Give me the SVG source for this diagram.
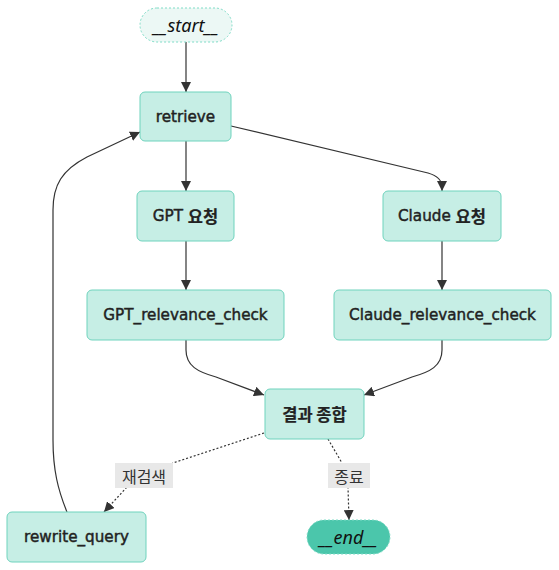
<svg xmlns="http://www.w3.org/2000/svg" width="559" height="570" viewBox="0 0 559 570">
<defs>
<marker id="arr" viewBox="0 0 10 10" refX="10" refY="5" markerWidth="10" markerHeight="10" markerUnits="userSpaceOnUse" orient="auto">
<path d="M0,0 L10,5 L0,10 z" fill="#333"/>
</marker>
<style>
.node rect{fill:#c6eee5;stroke:#6fd3bd;stroke-width:1}
.node text{font-family:"DejaVu Sans","Noto Sans CJK KR",sans-serif;font-size:15.2px;fill:#222;stroke:#222;stroke-width:0.45;text-anchor:middle;dominant-baseline:central}
.node .ko{font-family:"Noto Sans CJK KR",sans-serif;font-weight:700;font-size:16.5px;stroke-width:0.2}
.term text{font-family:"Noto Sans","Noto Sans CJK KR",sans-serif;font-style:italic;font-size:18px;fill:#111;text-anchor:middle;dominant-baseline:central}
.edge{fill:none;stroke:#333;stroke-width:1.2}
.dot{stroke-dasharray:2 2}
.lbl rect{fill:#e8e8e8}
.lbl text{font-family:"Noto Sans CJK KR",sans-serif;font-size:16px;fill:#333;text-anchor:middle;dominant-baseline:central}
</style>
</defs>
<rect width="559" height="570" fill="#fff"/>
<g id="edges">
<path class="edge" d="M186,42 L186,92" marker-end="url(#arr)"/>
<path class="edge" d="M186,141 L186,191" marker-end="url(#arr)"/>
<path class="edge" d="M231,126 L428,173 Q442,177 442,187 L442,191" marker-end="url(#arr)"/>
<path class="edge" d="M186,241 L186,290" marker-end="url(#arr)"/>
<path class="edge" d="M442,241 L442,290" marker-end="url(#arr)"/>
<path class="edge" d="M186,340 L186,350 C186,366 198,372 216,377 L264,395" marker-end="url(#arr)"/>
<path class="edge" d="M442,340 L442,350 C442,366 430,372 412,377 L364,395" marker-end="url(#arr)"/>
<path class="edge dot" d="M264,433 L173,463 L127,487 L104,512" marker-end="url(#arr)"/>
<path class="edge dot" d="M328,439 L342,463 L348,487 L349,520" marker-end="url(#arr)"/>
<path class="edge" d="M67,512 C58,490 53,470 53,440 L53,210 C53,185 62,170 87,157 L140,132" marker-end="url(#arr)"/>
<g class="lbl"><rect x="115" y="463" width="58" height="25"/><text x="144" y="475.5">재검색</text></g>
<g class="lbl"><rect x="328" y="463" width="42" height="25"/><text x="349" y="475.5">종료</text></g>
</g>
<g id="start" class="term"><rect x="140" y="8" width="92" height="34" rx="17" fill="#ecf8f5" stroke="#7fdcc7" stroke-dasharray="2 2"/><text x="186" y="25">__start__</text></g>
<g id="retrieve" class="node"><rect x="140" y="92" width="91" height="49" rx="5"/><text x="185.5" y="116.5">retrieve</text></g>
<g id="gpt" class="node"><rect x="137" y="191" width="97" height="50" rx="5"/><text x="185.5" y="216">GPT <tspan class="ko">요청</tspan></text></g>
<g id="claude" class="node"><rect x="383" y="191" width="118" height="50" rx="5"/><text x="442" y="216">Claude <tspan class="ko">요청</tspan></text></g>
<g id="gpt_rel" class="node"><rect x="87" y="290" width="197" height="50" rx="5"/><text x="185.5" y="315">GPT_relevance_check</text></g>
<g id="claude_rel" class="node"><rect x="334" y="290" width="217" height="50" rx="5"/><text x="442.5" y="315">Claude_relevance_check</text></g>
<g id="result" class="node"><rect x="265" y="389" width="99" height="50" rx="5"/><text x="314.5" y="414" class="ko">결과 종합</text></g>
<g id="rewrite" class="node"><rect x="7" y="512" width="139" height="50" rx="5"/><text x="76.5" y="537">rewrite_query</text></g>
<g id="end" class="term"><rect x="307" y="520" width="83" height="34" rx="17" fill="#4bc6ab" stroke="#7fdcc7" stroke-dasharray="2 2"/><text x="348.5" y="537">__end__</text></g>
</svg>
